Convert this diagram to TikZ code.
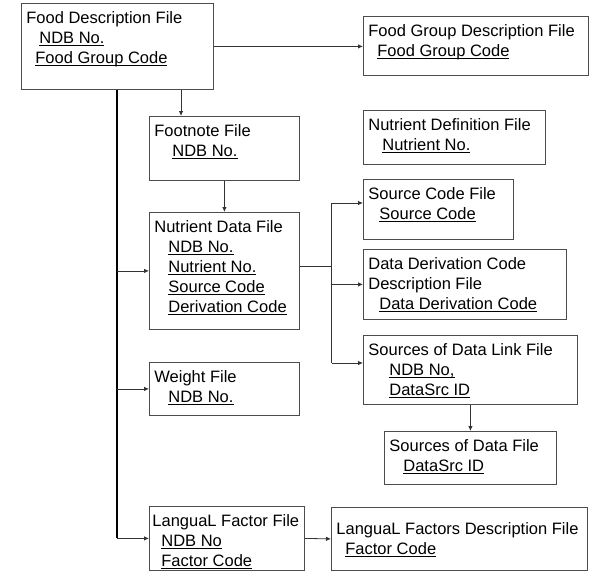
\documentclass[tikz,border=0pt]{standalone}
\usepackage{fontspec}
\setmainfont{Liberation Sans}
\usetikzlibrary{arrows.meta}
\definecolor{boxgray}{gray}{0.3}
\newcommand{\keyfield}[1]{\underline{\smash{#1}}}
\newcommand{\filetext}[4][8.5pt]{\parbox[t][#3][t]{#2}{\leftskip=5pt\vspace*{#1}#4}}
\begin{document}
\begin{tikzpicture}[x=1pt, y=-1pt,
  filebox/.style={draw=boxgray, line width=0.8pt, anchor=north west, inner sep=0pt, font=\fontsize{16.5}{20}\selectfont},
  link/.style={draw=black!80, line width=0.8pt},
  arr/.style={link, -{Latex[length=5pt,width=4.5pt]}},
  trunkline/.style={draw=black, line width=1.1pt}]
\useasboundingbox (0,0) rectangle (609,578);
% files
\node[filebox] (fd) at (21,3) {\filetext{192pt}{86pt}{Food Description File\\\hspace*{13pt}\keyfield{NDB No.}\\\hspace*{9pt}\keyfield{Food Group Code}}};
\node[filebox] (fgd) at (363,16) {\filetext{225pt}{59pt}{Food Group Description File\\\hspace*{9pt}\keyfield{Food Group Code}}};
\node[filebox] (fn) at (149,116) {\filetext{150pt}{64pt}{Footnote File\\\hspace*{18pt}\keyfield{NDB No.}}};
\node[filebox] (ndef) at (363,110) {\filetext{182pt}{54pt}{Nutrient Definition File\\\hspace*{14pt}\keyfield{Nutrient No.}}};
\node[filebox] (sc) at (363,179) {\filetext{150pt}{60pt}{Source Code File\\\hspace*{11pt}\keyfield{Source Code}}};
\node[filebox] (dd) at (363,249) {\filetext{203pt}{70pt}{Data Derivation Code\\Description File\\\hspace*{11pt}\keyfield{Data Derivation Code}}};
\node[filebox] (sl) at (363,335) {\filetext{214pt}{69pt}{Sources of Data Link File\\\hspace*{21pt}\keyfield{NDB No,}\\\hspace*{21pt}\keyfield{DataSrc ID}}};
\node[filebox] (sod) at (384,431) {\filetext{172pt}{53pt}{Sources of Data File\\\hspace*{14pt}\keyfield{DataSrc ID}}};
\node[filebox] (nd) at (149,212) {\filetext{150pt}{117pt}{Nutrient Data File\\\hspace*{14pt}\keyfield{NDB No.}\\\hspace*{14pt}\keyfield{Nutrient No.}\\\hspace*{14pt}\keyfield{Source Code}\\\hspace*{14pt}\keyfield{Derivation Code}}};
\node[filebox] (wt) at (149,362) {\filetext{150pt}{53pt}{Weight File\\\hspace*{14pt}\keyfield{NDB No.}}};
\node[filebox] (lf) at (149,506) {\filetext{155pt}{64pt}{\hspace*{-2pt}LanguaL Factor File\\\hspace*{7pt}\keyfield{NDB No}\\\hspace*{7pt}\keyfield{Factor Code}}};
\node[filebox] (ld) at (331,507) {\filetext[15pt]{256pt}{63pt}{LanguaL Factors Description File\\\hspace*{9pt}\keyfield{Factor Code}}};
% connection points
\coordinate (fnin) at ([xshift=32pt]fn.north west);
\coordinate (trunk) at ([xshift=96pt]fd.south west);
\coordinate (ndout) at ([yshift=5pt]nd.east);
\coordinate (bus) at ([xshift=32pt]ndout);
\coordinate (scin) at ([yshift=-24pt]sc.north west);
\coordinate (slin) at ([yshift=-28pt]sl.north west);
% links
\draw[arr] (fd.east) -- (fd.east -| fgd.west);
\draw[arr] (fnin |- fd.south) -- (fnin);
\draw[arr] (fn.south) -- (nd.north);
\draw[trunkline] (trunk) -- (trunk |- lf.west);
\draw[arr] (trunk |- nd.west) -- (nd.west);
\draw[arr] (trunk |- wt.west) -- (wt.west);
\draw[arr] (trunk |- lf.west) -- (lf.west);
\draw[link] (ndout) -- (bus);
\draw[link] (bus |- scin) -- (bus |- slin);
\draw[arr] (bus |- scin) -- (scin);
\draw[arr] (bus |- dd.west) -- (dd.west);
\draw[arr] (bus |- slin) -- (slin);
\draw[arr] (sl.south) -- (sod.north);
\draw[arr] (lf.east) -- (ld.west);
\end{tikzpicture}
\end{document}
